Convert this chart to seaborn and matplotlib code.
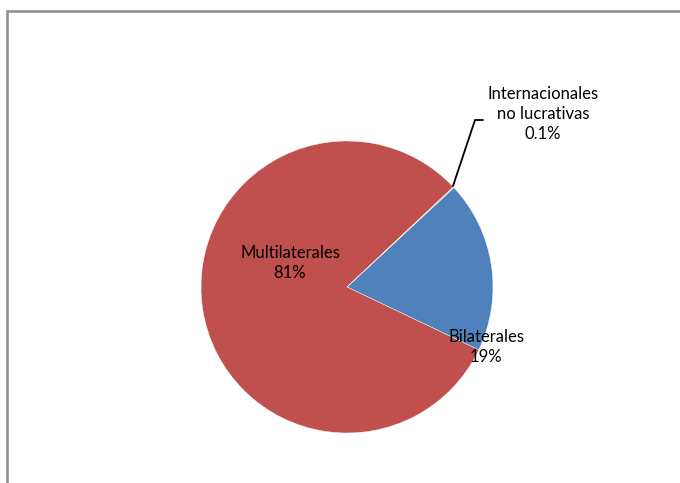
import matplotlib
matplotlib.use("Agg")
import matplotlib.pyplot as plt
from matplotlib.patches import Rectangle
import seaborn as sns

# --- datos ---
categorias = ["Bilaterales", "Multilaterales", "Internacionales\nno lucrativas"]
valores = [19.0, 80.9, 0.1]
etiquetas = ["Bilaterales\n19%", "Multilaterales\n81%", "Internacionales\nno lucrativas\n0.1%"]
colores = ["#4F81BD", "#C0504D", "#9BBB59"]

sns.set_theme(style="white")
plt.rcParams["font.family"] = ["Lato", "DejaVu Sans"]

fig = plt.figure(figsize=(6.8, 4.83), dpi=100)
ax = fig.add_axes([0, 0, 1, 1])

# marco del gráfico
ax.add_patch(Rectangle((7, -20), 700, 483 - 11 + 20, fill=False,
                       edgecolor="#8c8c8c", lw=1.8))

wedges, _ = ax.pie(valores, colors=colores, startangle=42.9, counterclock=False,
                   center=(347, 196), radius=146, frame=True,
                   wedgeprops={"edgecolor": "white", "linewidth": 0.3})
ax.set_xlim(0, 680)
ax.set_ylim(0, 483)
ax.set_aspect("equal")
ax.axis("off")

fs = 12
ax.text(290, 220, etiquetas[1], ha="center", va="center", fontsize=fs, color="black", linespacing=1.3)
ax.text(486, 136, etiquetas[0], ha="center", va="center", fontsize=fs, color="black", linespacing=1.3)
ax.text(543, 369, etiquetas[2], ha="center", va="center", fontsize=fs, color="black", linespacing=1.3)

# línea guía
ax.plot([453, 475, 483], [483 - 186, 483 - 120, 483 - 120], color="black", lw=1.3)

fig.savefig("out.png", dpi=100)
